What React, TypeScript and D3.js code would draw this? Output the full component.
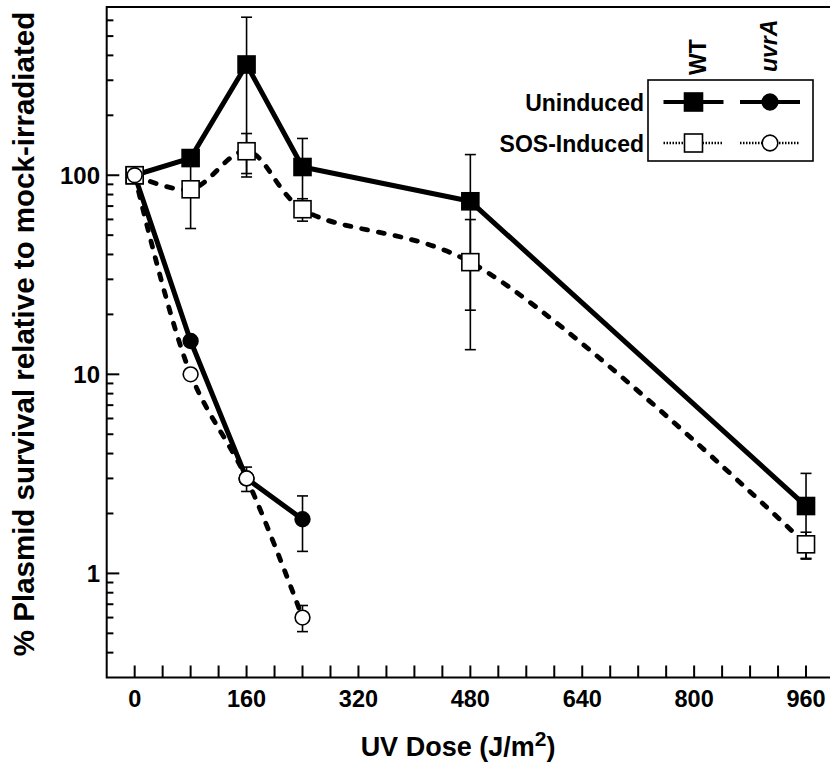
import React from 'react';
import * as d3 from 'd3';

// UV dose (J/m2)
const wtDoses = [0, 80, 160, 240, 480, 960];
const uvrDoses = [0, 80, 160, 240];

// % plasmid survival relative to mock-irradiated, with +/- error (null = not shown)
const wtUninduced = [100, 122, 360, 110, 74, 2.18];
const wtUninducedErr = [null, null, 262, 43, 53, 1.0];
const wtInduced = [100, 85, 132, 67.5, 36.6, 1.4];
const wtInducedErr = [null, 31, 30, 8.7, 23.3, 0.21];
const uvrUninduced = [100, 14.7, 3.0, 1.87];
const uvrUninducedErr = [null, null, null, 0.58];
const uvrInduced = [100, 10.0, 3.0, 0.6];
const uvrInducedErr = [null, null, 0.42, 0.09];

const xTickLabels = [0, 160, 320, 480, 640, 800, 960];
const yTickLabels = [1, 10, 100];
const legendRows = ['Uninduced', 'SOS-Induced'];
const legendCols = ['WT', 'uvrA'];

const FONT = '"Liberation Sans", Arial, Helvetica, sans-serif';

type Series = {
    doses: number[];
    values: number[];
    errors: (number | null)[];
    shape: 'square' | 'circle';
    filled: boolean;
};

const series: Series[] = [
    { doses: wtDoses, values: wtUninduced, errors: wtUninducedErr, shape: 'square', filled: true },
    { doses: uvrDoses, values: uvrUninduced, errors: uvrUninducedErr, shape: 'circle', filled: true },
    { doses: wtDoses, values: wtInduced, errors: wtInducedErr, shape: 'square', filled: false },
    { doses: uvrDoses, values: uvrInduced, errors: uvrInducedErr, shape: 'circle', filled: false },
];

const Marker = ({ x, y, shape, filled, size }: { x: number; y: number; shape: string; filled: boolean; size: number }) =>
    shape === 'square' ? (
        <rect x={x - size / 2} y={y - size / 2} width={size} height={size}
            fill={filled ? '#000' : '#fff'} stroke="#000" strokeWidth={1.6} />
    ) : (
        <circle cx={x} cy={y} r={size / 2.3} fill={filled ? '#000' : '#fff'} stroke="#000" strokeWidth={1.6} />
    );

export default function App() {
    const left = 106.7, right = 834, top = 7, bottom = 677.5;

    const x = d3.scaleLinear().domain([-40, 1000]).range([left, right]);
    const y = d3.scaleLog().domain([0.3, 700]).range([bottom, top]);

    const solid = d3.line<number[]>().x(d => x(d[0])).y(d => y(d[1]));
    const dashed = d3.line<number[]>().x(d => x(d[0])).y(d => y(d[1])).curve(d3.curveCatmullRom);

    const xTicks = d3.range(0, 1001, 40);
    const yMinor = [0.4, 0.5, 0.6, 0.7, 0.8, 0.9, ...d3.range(2, 10), ...d3.range(20, 100, 10), 200, 300, 400, 500, 600];

    return (
        <svg width={830} height={769} style={{ position: 'absolute', left: 0, top: 0, background: '#fff' }}
            fontFamily={FONT} fontWeight="bold">
            {/* frame */}
            <rect x={left} y={top} width={right - left} height={bottom - top} fill="none" stroke="#000" strokeWidth={2} />

            {/* x ticks */}
            {xTicks.map(t => (
                <line key={'xt' + t} x1={x(t)} x2={x(t)} y1={bottom} y2={bottom - 12} stroke="#000" strokeWidth={2} />
            ))}
            {xTickLabels.map(t => (
                <text key={'xl' + t} x={x(t)} y={707} textAnchor="middle" fontSize={23.5}>{t}</text>
            ))}

            {/* y ticks */}
            {yTickLabels.map(t => (
                <g key={'yl' + t}>
                    <line x1={left} x2={left + 12.6} y1={y(t)} y2={y(t)} stroke="#000" strokeWidth={2} />
                    <text x={100} y={y(t) + 8.5} textAnchor="end" fontSize={24}>{t}</text>
                </g>
            ))}
            {yMinor.map(t => (
                <line key={'ym' + t} x1={left} x2={left + 6.7} y1={y(t)} y2={y(t)} stroke="#000" strokeWidth={2} />
            ))}

            {/* axis titles */}
            <text x={458} y={756} textAnchor="middle" fontSize={27}>
                UV Dose (J/m<tspan fontSize={21} dy={-10}>2</tspan><tspan dy={10}>)</tspan>
            </text>
            <text transform="translate(34,334) rotate(-90)" textAnchor="middle" fontSize={29.5}>
                % Plasmid survival relative to mock-irradiated
            </text>

            {/* lines */}
            {series.map((s, i) => {
                const pts = s.doses.map((d, j) => [d, s.values[j]]);
                return s.filled ? (
                    <path key={'ln' + i} d={solid(pts) || ''} fill="none" stroke="#000" strokeWidth={5} strokeLinejoin="round" />
                ) : (
                    <path key={'ln' + i} d={dashed(pts) || ''} fill="none" stroke="#000" strokeWidth={4.8}
                        strokeDasharray="6,11" strokeLinecap="round" />
                );
            })}

            {/* error bars */}
            {series.map((s, i) => s.doses.map((d, j) => {
                const e = s.errors[j];
                if (e == null) return null;
                const v = s.values[j];
                const cx = x(d);
                return (
                    <g key={`eb${i}-${j}`} stroke="#000" strokeWidth={1.6}>
                        <line x1={cx} x2={cx} y1={y(v + e)} y2={y(v - e)} />
                        <line x1={cx - 5.5} x2={cx + 5.5} y1={y(v + e)} y2={y(v + e)} />
                        <line x1={cx - 5.5} x2={cx + 5.5} y1={y(v - e)} y2={y(v - e)} />
                    </g>
                );
            }))}

            {/* markers */}
            {series.map((s, i) => s.doses.map((d, j) => (
                <Marker key={`mk${i}-${j}`} x={x(d)} y={y(s.values[j])} shape={s.shape} filled={s.filled} size={17} />
            )))}

            {/* legend */}
            <rect x={648} y={80} width={165} height={81} fill="#fff" stroke="#000" strokeWidth={1.6} />
            {legendCols.map((c, ci) => (
                <text key={'lc' + c} transform={`translate(${ci === 0 ? 706 : 777},${ci === 0 ? 75 : 72}) rotate(-90)`}
                    fontSize={23} fontStyle={ci === 1 ? 'italic' : 'normal'}>{c}</text>
            ))}
            {legendRows.map((r, ri) => {
                const ly = ri === 0 ? 102 : 143;
                return (
                    <g key={'lr' + r}>
                        <text x={644} y={ly + 8.5} textAnchor="end" fontSize={23}>{r}</text>
                        {legendCols.map((c, ci) => {
                            const s = series[ri * 2 + ci];
                            const cx = ci === 0 ? 693.5 : 770;
                            return (
                                <g key={'lm' + r + c}>
                                    <line x1={cx - 30} x2={cx + 30} y1={ly} y2={ly} stroke="#000"
                                        strokeWidth={ri === 0 ? 4 : 2.5} strokeDasharray={ri === 0 ? undefined : '1.5,1.5'} />
                                    <Marker x={cx} y={ly} shape={s.shape} filled={s.filled} size={18} />
                                </g>
                            );
                        })}
                    </g>
                );
            })}
        </svg>
    );
}
